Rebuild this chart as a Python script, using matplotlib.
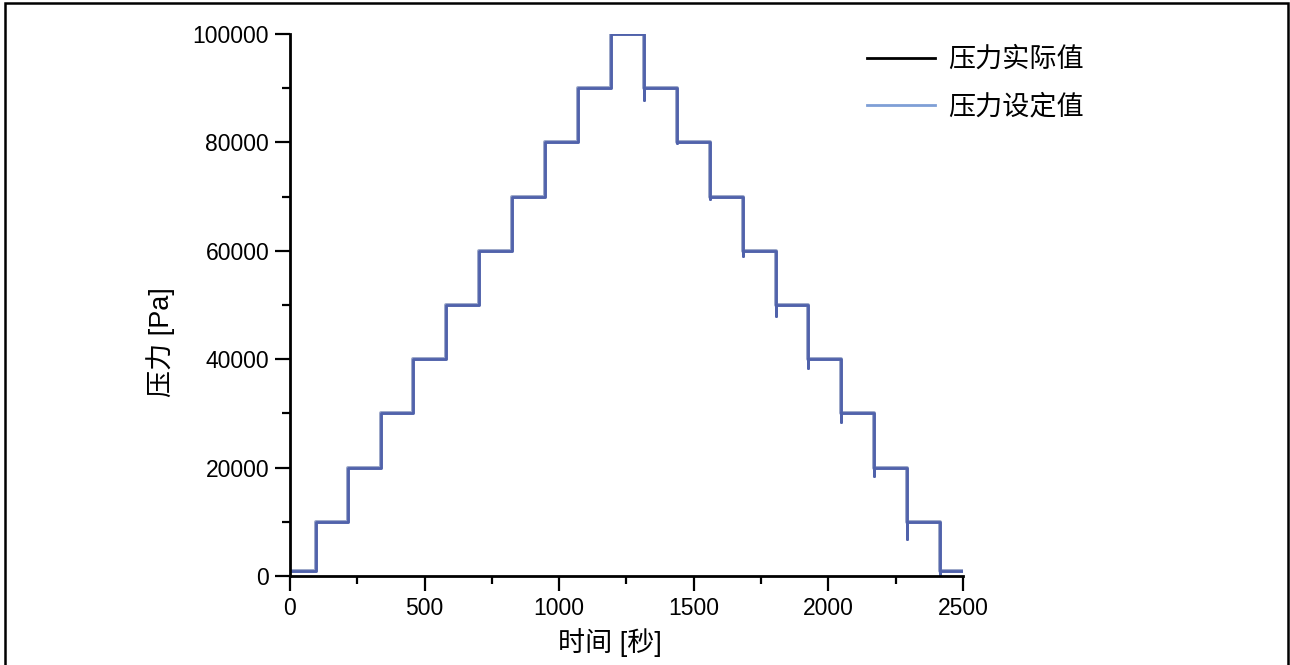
import matplotlib.pyplot as plt
from matplotlib.lines import Line2D
from matplotlib.patches import Rectangle
from matplotlib.ticker import MultipleLocator

plt.rcParams['font.family'] = ['Liberation Sans', 'Noto Sans CJK SC', 'DejaVu Sans']

# step change times [s] and pressure setpoints [Pa]
step_times = [0, 96, 215, 338, 457, 579, 702, 825, 947, 1070, 1192,
              1315, 1437, 1560, 1683, 1805, 1924, 2047, 2169, 2292, 2414]
set_levels = [1000, 10000, 20000, 30000, 40000, 50000, 60000, 70000, 80000, 90000, 100000,
              90000, 80000, 70000, 60000, 50000, 40000, 30000, 20000, 10000, 1000]
end_time = 2500
# undershoot of the measured pressure at each step (None = no dip)
actual_dips = [None, None, None, None, None, None, None, None, None, None, None,
               87900, 79800, 69500, 59000, 47900, 38400, 28400, 18400, 6900, 0]

# setpoint curve
sx = step_times + [end_time]
sy = set_levels + [set_levels[-1]]

# measured curve: follows setpoint with short dips after pressure drops
ax_, ay_ = [], []
for i, t in enumerate(step_times):
    if i > 0:
        ax_.append(t)
        ay_.append(set_levels[i - 1])
    if actual_dips[i] is not None:
        ax_.append(t)
        ay_.append(actual_dips[i])
    ax_.append(t)
    ay_.append(set_levels[i])
ax_.append(end_time)
ay_.append(set_levels[-1])

fig = plt.figure(figsize=(12.9, 6.65), dpi=100)
ax = fig.add_axes([0.2248, 0.1338, 0.5217, 0.8151])

ax.step(sx, sy, where='post', color='#9aa6c8', lw=2.8)
ax.plot(ax_, ay_, color='#5062ab', lw=2.0)

ax.set_xlim(0, 2500)
ax.set_ylim(0, 100000)
ax.xaxis.set_major_locator(MultipleLocator(500))
ax.xaxis.set_minor_locator(MultipleLocator(250))
ax.yaxis.set_major_locator(MultipleLocator(20000))
ax.yaxis.set_minor_locator(MultipleLocator(10000))
ax.tick_params(which='major', length=11, width=1.6, labelsize=16.5, direction='out', pad=4)
ax.tick_params(which='minor', length=6, width=1.6, direction='out')
for s in ['top', 'right']:
    ax.spines[s].set_visible(False)
for s in ['left', 'bottom']:
    ax.spines[s].set_linewidth(2)

ax.set_xlabel('时间 [秒]', fontsize=19.5)
ax.xaxis.set_label_coords(0.4755, -0.095)
ax.set_ylabel('压力 [Pa]', fontsize=19.5)
ax.yaxis.set_label_coords(-0.171, 0.432)

handles = [Line2D([], [], color='black', lw=2),
           Line2D([], [], color='#7f9fd6', lw=2)]
fig.legend(handles, ['压力实际值', '压力设定值'], loc='upper left',
           bbox_to_anchor=(0.6535, 0.966), frameon=False, fontsize=19.5,
           handlelength=2.5, handletextpad=0.5, labelspacing=0.8)

fig.patches.append(Rectangle((5 / 1290, -0.05), 1283 / 1290, 1.05 - 3 / 665,
                             transform=fig.transFigure, fill=False,
                             edgecolor='black', lw=1.8))

fig.savefig('out.png', dpi=100)
